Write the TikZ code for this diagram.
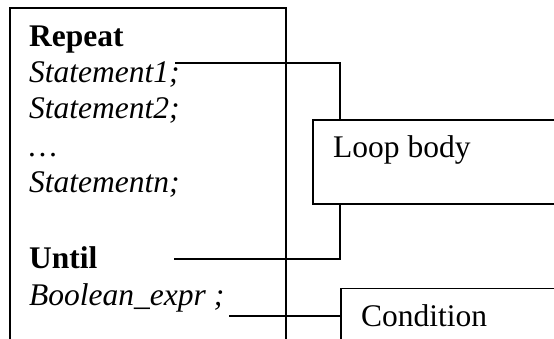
\documentclass[tikz,border=0pt]{standalone}
\usepackage{fontspec}
\setmainfont{Liberation Serif}
\begin{document}
\begin{tikzpicture}[x=1pt,y=-1pt,
  frame/.style={draw=black,line width=1.8pt,rectangle,inner sep=0pt,anchor=north west},
  code/.style={anchor=base west,inner sep=0pt,font=\fontsize{31.5}{36}\selectfont},
  link/.style={draw=black,line width=1.8pt}]
  \useasboundingbox (0,0) rectangle (554,339);
  \clip (0,0) rectangle (554,339);
  \fill[white] (0,0) rectangle (554,339);

  % boxes (the page edge cuts them off)
  \node[frame,minimum width=276pt,minimum height=360pt] (main) at (9,7.5) {};
  \node[frame,minimum width=300pt,minimum height=84pt] (loop) at (312,119.5) {};
  \node[frame,minimum width=300pt,minimum height=90pt] (cond) at (340,287.5) {};

  % the repeat-until listing
  \node[code] (rep) at (29,47) {\textbf{Repeat}};
  \node[code] (s1) at (29,82.5) {\textit{Statement1;}};
  \node[code] (s2) at (29,118.5) {\textit{Statement2;}};
  \node[code] (dots) at (29,157) {\textit{…}};
  \node[code] (sn) at (29,193) {\textit{Statementn;}};
  \node[code] (until) at (29,268) {\textbf{Until}};
  \node[code] (bexpr) at (29,305) {\textit{Boolean\_expr ;}};

  % labels
  \node[code] (looplbl) at (333,158) {Loop body};
  \node[code] (condlbl) at (361,326) {Condition};

  % connectors
  \coordinate (c1) at (175,63);
  \coordinate (c2) at (174,259.3);
  \coordinate (c3) at (229,316);
  \draw[link] (c1) -| ([xshift=28pt]loop.north west);
  \draw[link] (c2) -| ([xshift=28pt]loop.south west);
  \draw[link] (c3) -- (c3 -| cond.west);
\end{tikzpicture}
\end{document}
